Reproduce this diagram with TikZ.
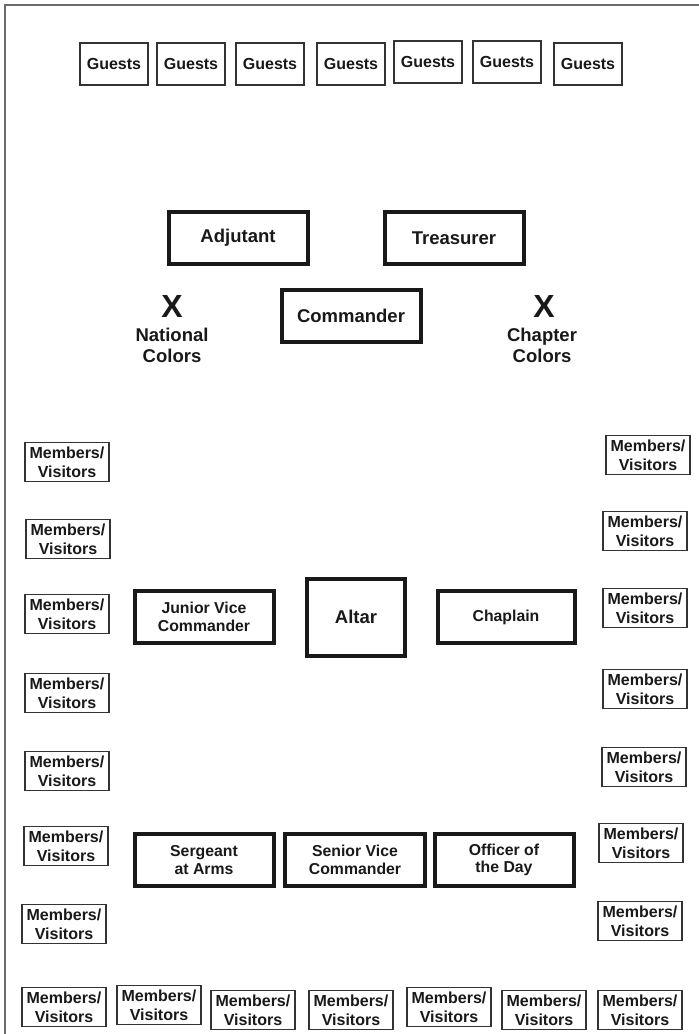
\documentclass[tikz,border=0pt]{standalone}
\usepackage{fontspec}
\setmainfont{Liberation Sans}
\begin{document}
\begin{tikzpicture}[x=1pt,y=-1pt,
  thinbox/.style={draw=black!80,line width=1.3pt,fill=white,inner sep=0pt,align=center,text=black!90,font=\bfseries\fontsize{16}{19}\selectfont},
  guestbox/.style={thinbox,minimum width=68pt,minimum height=42pt},
  memberbox/.style={thinbox,minimum width=84pt,minimum height=39pt},
  officer/.style={draw=black!90,line width=4pt,fill=white,inner sep=0pt,align=center,text=black!90,minimum width=139pt,minimum height=52pt},
  bigtxt/.style={font=\bfseries\fontsize{18.5}{20}\selectfont},
  smalltxt/.style={font=\bfseries\fontsize{15.8}{17.8}\selectfont},
  colortxt/.style={align=center,text=black!90,font=\bfseries\fontsize{18.5}{21}\selectfont,inner sep=0pt},
  xmark/.style={text=black!90,font=\bfseries\fontsize{32}{32}\selectfont,inner sep=0pt}]
\useasboundingbox (0,0) rectangle (699,1034);
\fill[white] (0,0) rectangle (699,1034);
% frame
\coordinate (fl) at (5,1034);
\coordinate (fc) at (5,5);
\coordinate (fr) at (699,5);
\draw[draw=black!58,line width=2.2pt] (fl) -- (fc) -- (fr);
% guests
\node[guestbox] (g1) at (114,64) {Guests};
\node[guestbox] (g2) at (191,64) {Guests};
\node[guestbox] (g3) at (270,64) {Guests};
\node[guestbox] (g4) at (351,64) {Guests};
\node[guestbox] (g5) at (428,62) {Guests};
\node[guestbox] (g6) at (507,62) {Guests};
\node[guestbox] (g7) at (588,64) {Guests};
% head officers
\node[officer,bigtxt] (adj) at (238,238) {Adjutant};
\node[officer,bigtxt] (tre) at (454,238) {Treasurer};
\node[officer,bigtxt] (com) at (351,316) {Commander};
% colors
\node[xmark] (xl) at (172,306) {X};
\node[colortxt] (nc) at (172,345) {National\\Colors};
\node[xmark] (xr) at (544,306) {X};
\node[colortxt] (cc) at (542,345) {Chapter\\Colors};
% left column
\node[memberbox] (l1) at (67,462) {Members/\\Visitors};
\node[memberbox] (l2) at (68,539) {Members/\\Visitors};
\node[memberbox] (l3) at (67,614) {Members/\\Visitors};
\node[memberbox] (l4) at (67,693) {Members/\\Visitors};
\node[memberbox] (l5) at (67,771) {Members/\\Visitors};
\node[memberbox] (l6) at (66,846) {Members/\\Visitors};
\node[memberbox] (l7) at (64,924) {Members/\\Visitors};
% right column
\node[memberbox] (r1) at (648,455) {Members/\\Visitors};
\node[memberbox] (r2) at (645,531) {Members/\\Visitors};
\node[memberbox] (r3) at (645,608) {Members/\\Visitors};
\node[memberbox] (r4) at (645,689) {Members/\\Visitors};
\node[memberbox] (r5) at (644,767) {Members/\\Visitors};
\node[memberbox] (r6) at (641,843) {Members/\\Visitors};
\node[memberbox] (r7) at (640,921) {Members/\\Visitors};
% bottom row
\node[memberbox] (b1) at (64,1007) {Members/\\Visitors};
\node[memberbox] (b2) at (159,1005) {Members/\\Visitors};
\node[memberbox] (b3) at (253,1010) {Members/\\Visitors};
\node[memberbox] (b4) at (351,1010) {Members/\\Visitors};
\node[memberbox] (b5) at (449,1007) {Members/\\Visitors};
\node[memberbox] (b6) at (544,1010) {Members/\\Visitors};
\node[memberbox] (b7) at (640,1010) {Members/\\Visitors};
% middle
\node[officer,smalltxt] (jvc) at (204,617) {Junior Vice\\Commander};
\node[officer,bigtxt,minimum width=98pt,minimum height=77pt] (alt) at (356,617) {Altar};
\node[officer,smalltxt,minimum width=137pt] (cha) at (506,617) {Chaplain};
% bottom officers
\node[officer,smalltxt] (saa) at (204,860) {Sergeant\\at Arms};
\node[officer,smalltxt,minimum width=140pt] (svc) at (355,860) {Senior Vice\\Commander};
\node[officer,smalltxt] (ood) at (504,860) {Officer of\\the Day};
\end{tikzpicture}
\end{document}
